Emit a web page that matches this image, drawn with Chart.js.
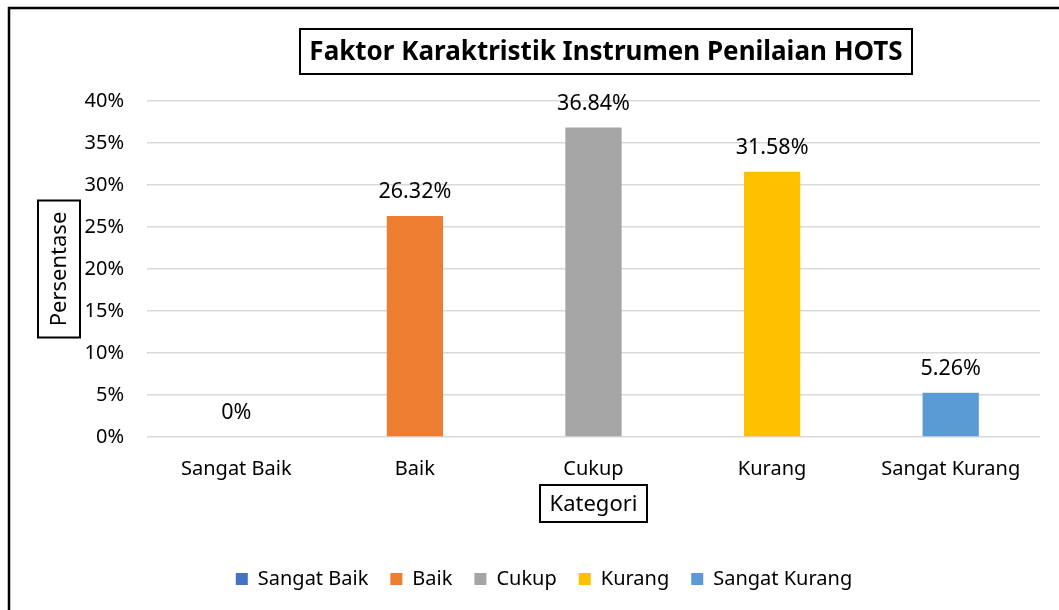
<!DOCTYPE html>
<html>
<head>
<meta charset="utf-8">
<script src="https://cdn.jsdelivr.net/npm/chart.js@4"></script>
<style>
  body { margin: 0; background: #fff; }
  #wrap { width: 1059px; height: 610px; }
</style>
</head>
<body>
<div id="wrap"><canvas id="chart" width="1059" height="610"></canvas></div>
<script>
const categories = ["Sangat Baik", "Baik", "Cukup", "Kurang", "Sangat Kurang"];
const values = [0, 26.32, 36.84, 31.58, 5.26];
const colors = ["#4472C4", "#ED7D31", "#A5A5A5", "#FFC000", "#5B9BD5"];
const yTicks = [0, 5, 10, 15, 20, 25, 30, 35, 40];

const chartTitle = "Faktor Karaktristik Instrumen Penilaian HOTS";
const yTitle = "Persentase";
const xTitle = "Kategori";

const FONT = "'Noto Sans', 'Open Sans', sans-serif";

function fmt(v) {
  return v === 0 ? "0%" : v.toFixed(2) + "%";
}

function boxText(ctx, text, cx, cy, font, w, h, rotate) {
  ctx.save();
  ctx.translate(cx, cy);
  if (rotate) ctx.rotate(-Math.PI / 2);
  ctx.font = font;
  let tw = ctx.measureText(text).width;
  let bw = Math.max(w, tw + 14);
  ctx.lineWidth = 2;
  ctx.strokeStyle = "#000";
  ctx.strokeRect(-bw / 2, -h / 2, bw, h);
  ctx.fillStyle = "#000";
  ctx.textAlign = "center";
  ctx.textBaseline = "middle";
  ctx.fillText(text, 0, 1);
  ctx.restore();
}

const decor = {
  id: "decor",
  afterDraw(chart) {
    let ctx = chart.ctx;
    let area = chart.chartArea;

    // outer chart border (right/bottom fall outside the picture)
    ctx.save();
    ctx.lineWidth = 2.5;
    ctx.strokeStyle = "#000";
    ctx.strokeRect(9, 8, 1100, 700);
    ctx.restore();

    boxText(ctx, chartTitle, 606, 51.5, "bold 26px " + FONT, 612, 45, false);
    boxText(ctx, yTitle, 59, (area.top + area.bottom) / 2, "22px " + FONT, 137, 42, true);
    boxText(ctx, xTitle, (area.left + area.right) / 2, 503.5, "22px " + FONT, 107, 37, false);

    // value labels above bars
    let meta = chart.getDatasetMeta(0);
    ctx.save();
    ctx.font = "21.5px " + FONT;
    ctx.fillStyle = "#000";
    ctx.textAlign = "center";
    ctx.textBaseline = "middle";
    meta.data.forEach((bar, i) => {
      ctx.fillText(fmt(values[i]), bar.x, bar.y - 24);
    });
    ctx.restore();
  }
};

new Chart(document.getElementById("chart"), {
  type: "bar",
  data: {
    labels: categories,
    datasets: [{
      data: values,
      backgroundColor: colors,
      categoryPercentage: 1,
      barPercentage: 0.315
    }]
  },
  options: {
    responsive: false,
    animation: false,
    layout: { padding: { top: 101, right: 19, left: 48, bottom: 11 } },
    plugins: {
      title: { display: false },
      tooltip: { enabled: false },
      legend: {
        position: "bottom",
        labels: {
          boxWidth: 12,
          boxHeight: 12,
          padding: 22,
          color: "#000",
          font: { family: FONT, size: 20 },
          generateLabels: () => categories.map((c, i) => ({
            text: c,
            fillStyle: colors[i],
            strokeStyle: colors[i],
            lineWidth: 0,
            hidden: false,
            index: i
          }))
        }
      }
    },
    scales: {
      x: {
        grid: { display: false },
        border: { display: false },
        ticks: { color: "#000", padding: 12, font: { family: FONT, size: 20 } },
        afterFit: s => { s.height = 110; }
      },
      y: {
        min: 0,
        max: 40,
        afterBuildTicks: s => { s.ticks = yTicks.map(v => ({ value: v })); },
        grid: { color: "#d9d9d9", lineWidth: 1.5, drawTicks: false },
        border: { display: false },
        ticks: {
          color: "#000",
          padding: 23,
          font: { family: FONT, size: 20 },
          callback: v => v + "%"
        },
        afterFit: s => { s.width = 99; }
      }
    }
  },
  plugins: [decor]
});
</script>
</body>
</html>
